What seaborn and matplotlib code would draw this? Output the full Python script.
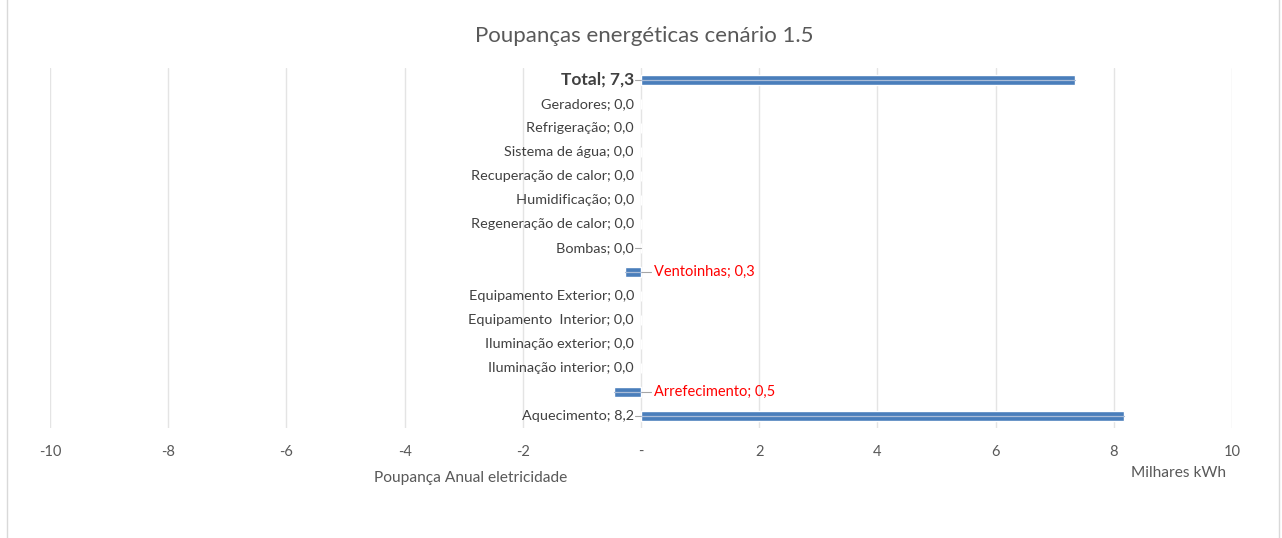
import matplotlib.pyplot as plt
import matplotlib.patches as mpatches
import seaborn as sns
import pandas as pd

# data (thousand kWh), top to bottom as drawn
categories = ['Total', 'Geradores', 'Refrigeração', 'Sistema de água',
              'Recuperação de calor', 'Humidificação', 'Regeneração de calor',
              'Bombas', 'Ventoinhas', 'Equipamento Exterior', 'Equipamento  Interior',
              'Iluminação exterior', 'Iluminação interior', 'Arrefecimento', 'Aquecimento']
values = [7.34, 0.0, 0.0, 0.0, 0.0, 0.0, 0.0, 0.0, -0.27, 0.0, 0.0, 0.0, 0.0, -0.46, 8.17]
xticks = [-10, -8, -6, -4, -2, 0, 2, 4, 6, 8, 10]
xtick_labels = ['-10', '-8', '-6', '-4', '-2', '-', '2', '4', '6', '8', '10']

df = pd.DataFrame({'cat': categories, 'val': values})

sns.set_style('white')
plt.rcParams['font.family'] = ['Lato', 'DejaVu Sans']

W, H = 1282, 538
fig = plt.figure(figsize=(W / 100, H / 100), dpi=100)
ax = fig.add_axes([50 / W, 1 - 428 / H, (1232 - 50) / W, (428 - 68) / H])

blue = '#4a7ebb'
sns.barplot(data=df, y='cat', x='val', orient='h', color=blue, width=0.44,
            saturation=1, ax=ax, order=categories)
# lighter stripe through the middle of each bar
for i, v in enumerate(values):
    if v != 0:
        ax.plot([0, v], [i, i], color='#a9bcd8', lw=0.9, zorder=3)

ax.set_xlim(-10, 10)
ax.set_ylim(14.5, -0.5)
ax.set_xticks(xticks)
ax.set_xticklabels(xtick_labels, color='#595959', fontsize=10.5)
ax.tick_params(axis='x', length=0, pad=12)
ax.set_yticks([])
ax.set_xlabel('')
ax.set_ylabel('')
ax.grid(axis='x', color='#e4e4e4', lw=1)
ax.set_axisbelow(True)
for s in ax.spines.values():
    s.set_visible(False)

# data labels
for i, (c, v) in enumerate(zip(categories, values)):
    txt = f"{c}; {abs(v):.1f}".replace('.', ',')
    if v < 0:
        ax.text(0.22, i, txt, ha='left', va='center', color='#ff0000', fontsize=10.5)
        ax.plot([0, 0.17], [i, i], color='#a6a6a6', lw=0.8)
    elif c == 'Total':
        ax.text(-0.12, i, txt, ha='right', va='center', color='#404040',
                fontsize=12.5, fontweight='bold')
        ax.plot([-0.1, 0.05], [i, i], color='#a6a6a6', lw=0.8)
    else:
        ax.text(-0.12, i, txt, ha='right', va='center', color='#404040', fontsize=10.4)
        if c in ('Aquecimento', 'Bombas'):
            ax.plot([-0.1, 0.0], [i, i], color='#a6a6a6', lw=0.8)

fig.text(644 / W, 1 - 36 / H, 'Poupanças energéticas cenário 1.5', ha='center',
         va='center', fontsize=16, color='#595959')
fig.text(374 / W, 1 - 478 / H, 'Poupança Anual eletricidade', ha='left',
         va='center', fontsize=11.2, color='#595959')
fig.text(1226 / W, 1 - 473 / H, 'Milhares kWh', ha='right', va='center',
         fontsize=11.2, color='#595959')

# chart frame
fig.patches.append(mpatches.Rectangle((7 / W, -0.01), (1279 - 7) / W, 1.02,
                                      transform=fig.transFigure, fill=False,
                                      edgecolor='#d9d9d9', lw=1))

fig.savefig('out.png', dpi=100, facecolor='white')
plt.close()
